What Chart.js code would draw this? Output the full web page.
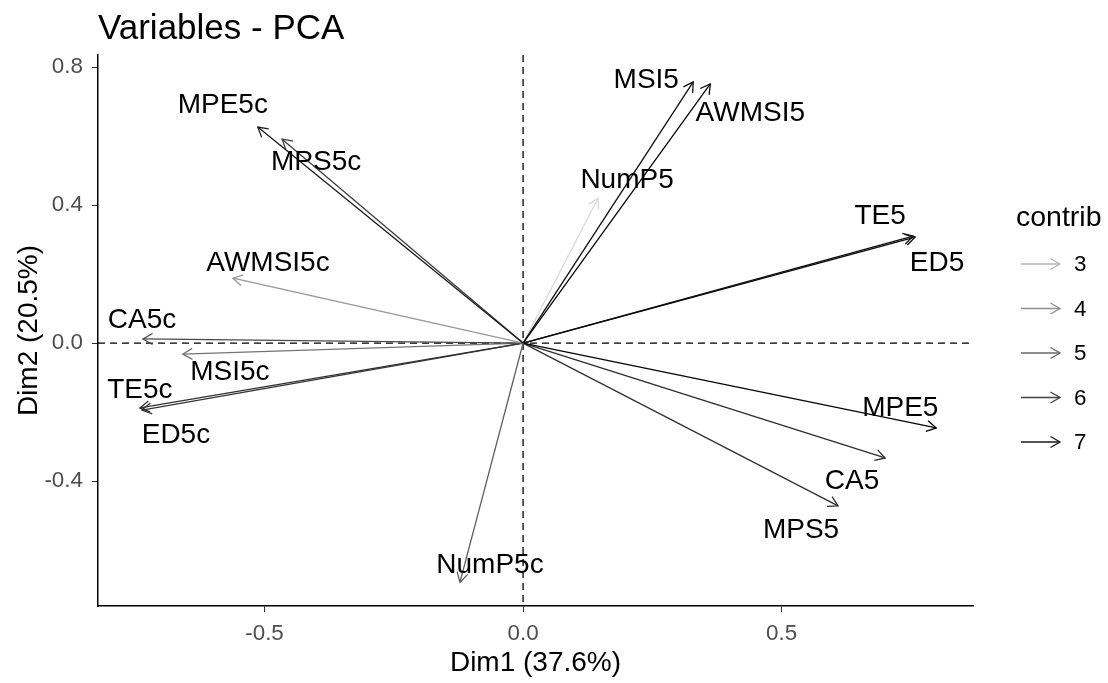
<!DOCTYPE html>
<html>
<head>
<meta charset="utf-8">
<script src="https://cdn.jsdelivr.net/npm/chart.js@4.4.1/dist/chart.umd.min.js"></script>
<style>
  body { margin: 0; background: #fff; }
  #wrap { width: 1108px; height: 683px; }
</style>
</head>
<body>
<div id="wrap"><canvas id="c"></canvas></div>
<script>
// variable coordinates
const varNames = ['MPE5c', 'MPS5c', 'AWMSI5c', 'CA5c', 'MSI5c', 'TE5c', 'ED5c', 'NumP5c',
                  'MSI5', 'AWMSI5', 'NumP5', 'TE5', 'ED5', 'MPE5', 'CA5', 'MPS5'];
const dim1 = [-0.513, -0.466, -0.561, -0.735, -0.658, -0.741, -0.737, -0.122,
              0.329, 0.362, 0.145, 0.758, 0.754, 0.799, 0.700, 0.609];
const dim2 = [0.626, 0.591, 0.188, 0.012, -0.032, -0.188, -0.194, -0.693,
              0.757, 0.751, 0.420, 0.307, 0.310, -0.246, -0.333, -0.472];
const contrib = [7.0, 6.1, 3.8, 5.8, 4.7, 6.4, 6.3, 5.3,
                 7.3, 7.5, 2.1, 7.4, 7.3, 7.5, 6.5, 6.4];

const xTicks = [-0.5, 0, 0.5];
const yTicks = [-0.4, 0, 0.4, 0.8];
const legendLevels = [3, 4, 5, 6, 7];

// label nudges in pixels (where ggrepel put them)
const labelNudge = {
  MPE5c: [-35, -22], MPS5c: [34, 23], AWMSI5c: [35, -15], CA5c: [-1, -19],
  MSI5c: [47, 18], TE5c: [0, -18], ED5c: [34, 25], NumP5c: [30, -17],
  MSI5: [-47, -2], AWMSI5: [40, 29], NumP5: [29, -18], TE5: [-35, -21],
  ED5: [24, 27], MPE5: [-36, -20], CA5: [-33, 23], MPS5: [-37, 24]
};

const FONT = "'Liberation Sans', Arial, sans-serif";
Chart.defaults.font.family = FONT;

function greyFor(c) {
  const t = Math.min(1, Math.max(0, (c - 2.1) / (7.5 - 2.1)));
  const g = Math.round(218 - t * 212);
  return 'rgb(' + g + ',' + g + ',' + g + ')';
}

function arrowHead(ctx, x0, y0, x1, y1, len) {
  const a = Math.atan2(y1 - y0, x1 - x0);
  ctx.beginPath();
  ctx.moveTo(x1 - len * Math.cos(a - Math.PI / 6), y1 - len * Math.sin(a - Math.PI / 6));
  ctx.lineTo(x1, y1);
  ctx.lineTo(x1 - len * Math.cos(a + Math.PI / 6), y1 - len * Math.sin(a + Math.PI / 6));
  ctx.stroke();
}

const datasets = varNames.map((n, i) => ({
  label: n,
  data: [{x: 0, y: 0}, {x: dim1[i], y: dim2[i]}],
  showLine: true,
  borderColor: greyFor(contrib[i]),
  borderWidth: 1.3,
  pointRadius: 0
}));

const pcaPlugin = {
  id: 'pca',
  beforeDatasetsDraw(chart) {
    const {ctx, chartArea, scales} = chart;
    const x0 = scales.x.getPixelForValue(0), y0 = scales.y.getPixelForValue(0);
    ctx.save();
    ctx.strokeStyle = '#000';
    ctx.lineWidth = 1.3;
    ctx.setLineDash([7, 5]);
    ctx.beginPath();
    ctx.moveTo(x0, chartArea.top); ctx.lineTo(x0, chartArea.bottom);
    ctx.moveTo(chartArea.left, y0); ctx.lineTo(chartArea.right, y0);
    ctx.stroke();
    ctx.restore();
  },
  afterDatasetsDraw(chart) {
    const {ctx, scales} = chart;
    ctx.save();
    chart.data.datasets.forEach((ds, i) => {
      const p0 = ds.data[0], p1 = ds.data[1];
      const sx = scales.x.getPixelForValue(p0.x), sy = scales.y.getPixelForValue(p0.y);
      const ex = scales.x.getPixelForValue(p1.x), ey = scales.y.getPixelForValue(p1.y);
      ctx.strokeStyle = ds.borderColor;
      ctx.lineWidth = 1.3;
      arrowHead(ctx, sx, sy, ex, ey, 11);
    });
    ctx.font = '28px ' + FONT;
    ctx.fillStyle = '#000';
    ctx.textAlign = 'center';
    ctx.textBaseline = 'middle';
    chart.data.datasets.forEach((ds, i) => {
      const p1 = ds.data[1];
      const nd = labelNudge[ds.label] || [0, 0];
      ctx.fillText(ds.label, scales.x.getPixelForValue(p1.x) + nd[0], scales.y.getPixelForValue(p1.y) + nd[1]);
    });
    ctx.restore();
  },
  afterDraw(chart) {
    const ctx = chart.ctx;
    ctx.save();
    // title
    ctx.font = '35px ' + FONT;
    ctx.fillStyle = '#000';
    ctx.textAlign = 'left';
    ctx.textBaseline = 'alphabetic';
    ctx.fillText('Variables - PCA', 98, 39);
    // colour legend
    ctx.font = '28.5px ' + FONT;
    ctx.textBaseline = 'middle';
    ctx.fillText('contrib', 1016, 218);
    ctx.font = '22.4px ' + FONT;
    legendLevels.forEach((lv, k) => {
      const y = 264 + k * 44.5;
      ctx.strokeStyle = greyFor(lv);
      ctx.lineWidth = 1.3;
      ctx.beginPath();
      ctx.moveTo(1021, y); ctx.lineTo(1060, y);
      ctx.stroke();
      arrowHead(ctx, 1021, y, 1060, y, 11);
      ctx.fillStyle = '#000';
      ctx.textAlign = 'left';
      ctx.fillText(String(lv), 1074, y + 1);
    });
    ctx.restore();
  }
};

new Chart(document.getElementById('c'), {
  type: 'scatter',
  data: {datasets: datasets},
  options: {
    responsive: true,
    maintainAspectRatio: false,
    animation: false,
    layout: {padding: {top: 55, right: 135, bottom: 0, left: 0}},
    plugins: {legend: {display: false}, tooltip: {enabled: false}, title: {display: false}},
    scales: {
      x: {
        type: 'linear', min: -0.822, max: 0.870,
        afterBuildTicks: s => { s.ticks = xTicks.map(v => ({value: v})); },
        afterFit: s => { s.height = 77; },
        grid: {drawOnChartArea: false, drawTicks: true, tickLength: 6, color: '#333'},
        border: {display: true, color: '#000', width: 1.5},
        ticks: {font: {size: 22.4}, color: '#4D4D4D', padding: 8, callback: v => v.toFixed(1)},
        title: {display: true, text: 'Dim1 (37.6%)', font: {size: 28}, color: '#000', padding: {top: 0, bottom: 3}}
      },
      y: {
        type: 'linear', min: -0.762, max: 0.835,
        afterBuildTicks: s => { s.ticks = yTicks.map(v => ({value: v})); },
        afterFit: s => { s.width = 98; },
        grid: {drawOnChartArea: false, drawTicks: true, tickLength: 6, color: '#333'},
        border: {display: true, color: '#000', width: 1.5},
        ticks: {font: {size: 22.4}, color: '#4D4D4D', padding: 9, callback: v => v.toFixed(1)},
        title: {display: true, text: 'Dim2 (20.5%)', font: {size: 28}, color: '#000', padding: {top: 12, bottom: 0}}
      }
    }
  },
  plugins: [pcaPlugin]
});
</script>
</body>
</html>
